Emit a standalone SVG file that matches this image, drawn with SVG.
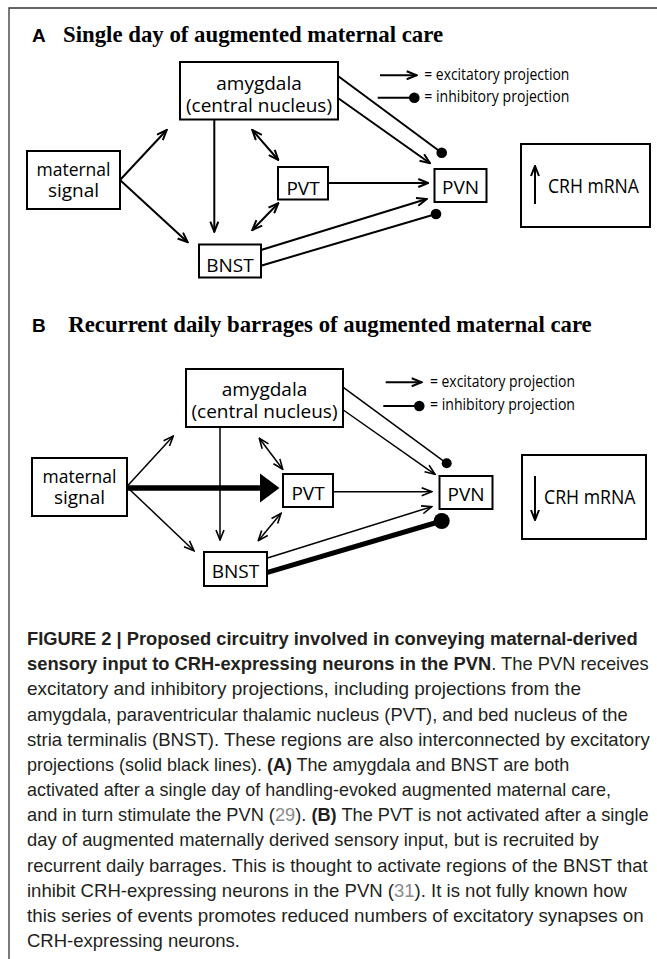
<svg xmlns="http://www.w3.org/2000/svg" width="657" height="959" viewBox="0 0 657 959">
<style>
.box{fill:#fff;stroke:#000;stroke-width:2}
.lbl{font-family:"Open Sans","Noto Sans",sans-serif;font-size:19px;fill:#000;text-anchor:middle}
.lbs{font-family:"Open Sans","Noto Sans",sans-serif;font-size:20px;fill:#000}
.leg{font-family:"Open Sans","Noto Sans",sans-serif;font-size:15.5px;fill:#000}
.ttl{font-family:"Liberation Serif",serif;font-weight:bold;font-size:23px;fill:#000}
.tl{font-family:"Liberation Sans",sans-serif;font-weight:bold;font-size:19px;fill:#000}
.cap{font-family:"Liberation Sans",sans-serif;font-size:18.5px;fill:#231f20}
.b{font-weight:bold}
.ref{fill:#8a8a8a}
.ca{stroke:#000;stroke-width:2;fill:none}
.cb{stroke:#000;stroke-width:1.5;fill:none}
.dot{fill:#000}
</style>
<defs>
<marker id="ah" viewBox="0 0 12 10" refX="11" refY="5" markerWidth="12" markerHeight="10" markerUnits="userSpaceOnUse" orient="auto-start-reverse"><path d="M1,1 L11,5 L1,9" fill="none" stroke="#000" stroke-width="2"/></marker>
<marker id="ahb" viewBox="0 0 12 10" refX="11" refY="5" markerWidth="12" markerHeight="10" markerUnits="userSpaceOnUse" orient="auto-start-reverse"><path d="M1,1 L11,5 L1,9" fill="none" stroke="#000" stroke-width="1.6"/></marker>
</defs>

<path d="M9,959 V8 H657" fill="none" stroke="#333" stroke-width="1.3"/>

<!-- Panel A -->
<g id="titleA">
<text class="tl" x="32" y="42">A</text>
<text class="ttl" x="63" y="42" textLength="380" lengthAdjust="spacingAndGlyphs">Single day of augmented maternal care</text>
</g>

<g id="connectorsA">
<line class="ca" x1="120" y1="180" x2="166.7" y2="130" marker-end="url(#ah)"/>
<line class="ca" x1="120" y1="180" x2="187.7" y2="242.3" marker-end="url(#ah)"/>
<line class="ca" x1="214.3" y1="119.5" x2="214.3" y2="231.7" marker-end="url(#ah)"/>
<line class="ca" x1="252.3" y1="130" x2="278.3" y2="160" marker-start="url(#ah)" marker-end="url(#ah)"/>
<line class="ca" x1="252.3" y1="230" x2="278.3" y2="203.3" marker-start="url(#ah)" marker-end="url(#ah)"/>
<line class="ca" x1="328" y1="183" x2="428.3" y2="183" marker-end="url(#ah)"/>
<line class="ca" x1="338.3" y1="98.3" x2="430" y2="163.3" marker-end="url(#ah)"/>
<line class="ca" x1="338" y1="76" x2="441.7" y2="152.7"/>
<circle class="dot" cx="441.7" cy="152.7" r="5.3"/>
<line class="ca" x1="261" y1="250" x2="426.7" y2="199" marker-end="url(#ah)"/>
<line class="ca" x1="261" y1="265.7" x2="436" y2="214"/>
<circle class="dot" cx="436" cy="214" r="5.3"/>
</g>

<g id="amygdalaA">
<rect class="box" x="180" y="62" width="158" height="57.5"/>
<text class="lbl" x="259" y="90">amygdala</text>
<text class="lbl" x="259" y="112">(central nucleus)</text>
</g>
<g id="maternalA">
<rect class="box" x="27" y="151" width="93" height="58"/>
<text class="lbl" x="73.5" y="176" textLength="74" lengthAdjust="spacingAndGlyphs">maternal</text>
<text class="lbl" x="73.5" y="197">signal</text>
</g>
<g id="pvtA">
<rect class="box" x="278" y="167" width="50" height="32.5"/>
<text class="lbl" x="303" y="195">PVT</text>
</g>
<g id="bnstA">
<rect class="box" x="199" y="244.5" width="62" height="33"/>
<text class="lbl" x="230" y="272">BNST</text>
</g>
<g id="pvnA">
<rect class="box" x="434.5" y="169" width="52" height="33"/>
<text class="lbl" x="460.5" y="194">PVN</text>
</g>
<g id="crhA">
<rect class="box" x="521" y="144" width="129" height="83"/>
<line class="ca" x1="535" y1="204" x2="535" y2="166" marker-end="url(#ah)"/>
<text class="lbs" x="548" y="193" textLength="91" lengthAdjust="spacingAndGlyphs">CRH mRNA</text>
</g>
<g id="legendA">
<line class="ca" x1="380" y1="75.3" x2="416.7" y2="75.3" marker-end="url(#ah)"/>
<text class="leg" x="424.3" y="80" textLength="145" lengthAdjust="spacingAndGlyphs">= excitatory projection</text>
<line class="ca" x1="377.7" y1="97.7" x2="414.3" y2="97.7"/>
<circle class="dot" cx="414.3" cy="97.7" r="5.3"/>
<text class="leg" x="424.3" y="102" textLength="145" lengthAdjust="spacingAndGlyphs">= inhibitory projection</text>
</g>

<!-- Panel B -->
<g id="titleB">
<text class="tl" x="32" y="332">B</text>
<text class="ttl" x="68.3" y="332" textLength="523.4" lengthAdjust="spacingAndGlyphs">Recurrent daily barrages of augmented maternal care</text>
</g>

<g id="connectorsB">
<line class="cb" x1="126.7" y1="486.7" x2="173.3" y2="436" marker-end="url(#ahb)"/>
<line class="cb" x1="126.7" y1="486.7" x2="194" y2="550.7" marker-end="url(#ahb)"/>
<line x1="126.7" y1="488" x2="262" y2="488" stroke="#000" stroke-width="5.5"/>
<polygon points="260,473.5 279.5,488 260,502.5" fill="#000"/>
<line class="cb" x1="220" y1="427.3" x2="220" y2="540" marker-end="url(#ahb)"/>
<line class="cb" x1="259.3" y1="438.3" x2="282.7" y2="469.3" marker-start="url(#ahb)" marker-end="url(#ahb)"/>
<line class="cb" x1="258.3" y1="540.7" x2="281" y2="513.3" marker-start="url(#ahb)" marker-end="url(#ahb)"/>
<line class="cb" x1="333.3" y1="491.7" x2="431.7" y2="491.7" marker-end="url(#ahb)"/>
<line class="cb" x1="343.3" y1="410" x2="435" y2="474.3" marker-end="url(#ahb)"/>
<line class="cb" x1="343.3" y1="387.3" x2="446.7" y2="463.3"/>
<circle class="dot" cx="446.7" cy="463.3" r="5"/>
<line class="cb" x1="266.7" y1="558.3" x2="431.7" y2="506.7" marker-end="url(#ahb)"/>
<line x1="266.7" y1="572.7" x2="441.7" y2="521" stroke="#000" stroke-width="5"/>
<circle class="dot" cx="441.7" cy="521" r="8"/>
</g>

<g id="amygdalaB">
<rect class="box" x="186" y="369" width="157" height="58"/>
<text class="lbl" x="264.5" y="396">amygdala</text>
<text class="lbl" x="264.5" y="418">(central nucleus)</text>
</g>
<g id="maternalB">
<rect class="box" x="32" y="458" width="95" height="58"/>
<text class="lbl" x="79.5" y="483" textLength="74" lengthAdjust="spacingAndGlyphs">maternal</text>
<text class="lbl" x="79.5" y="504">signal</text>
</g>
<g id="pvtB">
<rect class="box" x="283" y="474" width="50" height="33"/>
<text class="lbl" x="308" y="500">PVT</text>
</g>
<g id="bnstB">
<rect class="box" x="204" y="552" width="63" height="34"/>
<text class="lbl" x="235.5" y="578">BNST</text>
</g>
<g id="pvnB">
<rect class="box" x="439.5" y="476" width="53" height="33"/>
<text class="lbl" x="466" y="501">PVN</text>
</g>
<g id="crhB">
<rect class="box" x="522" y="455" width="124" height="84"/>
<line class="ca" x1="535" y1="476" x2="535" y2="520" marker-end="url(#ah)"/>
<text class="lbs" x="544" y="504" textLength="91.5" lengthAdjust="spacingAndGlyphs">CRH mRNA</text>
</g>
<g id="legendB">
<line class="ca" x1="385.7" y1="382.3" x2="421.7" y2="382.3" marker-end="url(#ah)"/>
<text class="leg" x="430" y="387" textLength="145" lengthAdjust="spacingAndGlyphs">= excitatory projection</text>
<line class="ca" x1="383.3" y1="406" x2="419.3" y2="406"/>
<circle class="dot" cx="419.3" cy="406" r="5.3"/>
<text class="leg" x="430" y="410" textLength="145" lengthAdjust="spacingAndGlyphs">= inhibitory projection</text>
</g>

<!-- Caption -->
<g id="caption" class="cap">
<text x="27" y="645" textLength="610.7" lengthAdjust="spacingAndGlyphs" class="b">FIGURE 2 | Proposed circuitry involved in conveying maternal-derived</text>
<text x="27" y="670.2" textLength="621.7" lengthAdjust="spacingAndGlyphs"><tspan class="b">sensory input to CRH-expressing neurons in the PVN</tspan>. The PVN receives</text>
<text x="27" y="695.3" textLength="554" lengthAdjust="spacingAndGlyphs">excitatory and inhibitory projections, including projections from the</text>
<text x="27" y="720.5" textLength="600.7" lengthAdjust="spacingAndGlyphs">amygdala, paraventricular thalamic nucleus (PVT), and bed nucleus of the</text>
<text x="27" y="745.7" textLength="622.7" lengthAdjust="spacingAndGlyphs">stria terminalis (BNST). These regions are also interconnected by excitatory</text>
<text x="27" y="770.9" textLength="542.3" lengthAdjust="spacingAndGlyphs">projections (solid black lines). <tspan class="b">(A)</tspan> The amygdala and BNST are both</text>
<text x="27" y="796" textLength="584" lengthAdjust="spacingAndGlyphs">activated after a single day of handling-evoked augmented maternal care,</text>
<text x="27" y="821.2" textLength="621.7" lengthAdjust="spacingAndGlyphs">and in turn stimulate the PVN (<tspan class="ref">29</tspan>). <tspan class="b">(B)</tspan> The PVT is not activated after a single</text>
<text x="27" y="846.4" textLength="571.7" lengthAdjust="spacingAndGlyphs">day of augmented maternally derived sensory input, but is recruited by</text>
<text x="27" y="871.5" textLength="620.7" lengthAdjust="spacingAndGlyphs">recurrent daily barrages. This is thought to activate regions of the BNST that</text>
<text x="27" y="896.7" textLength="600" lengthAdjust="spacingAndGlyphs">inhibit CRH-expressing neurons in the PVN (<tspan class="ref">31</tspan>). It is not fully known how</text>
<text x="27" y="921.9" textLength="616.7" lengthAdjust="spacingAndGlyphs">this series of events promotes reduced numbers of excitatory synapses on</text>
<text x="27" y="947" textLength="213" lengthAdjust="spacingAndGlyphs">CRH-expressing neurons.</text>
</g>
</svg>
